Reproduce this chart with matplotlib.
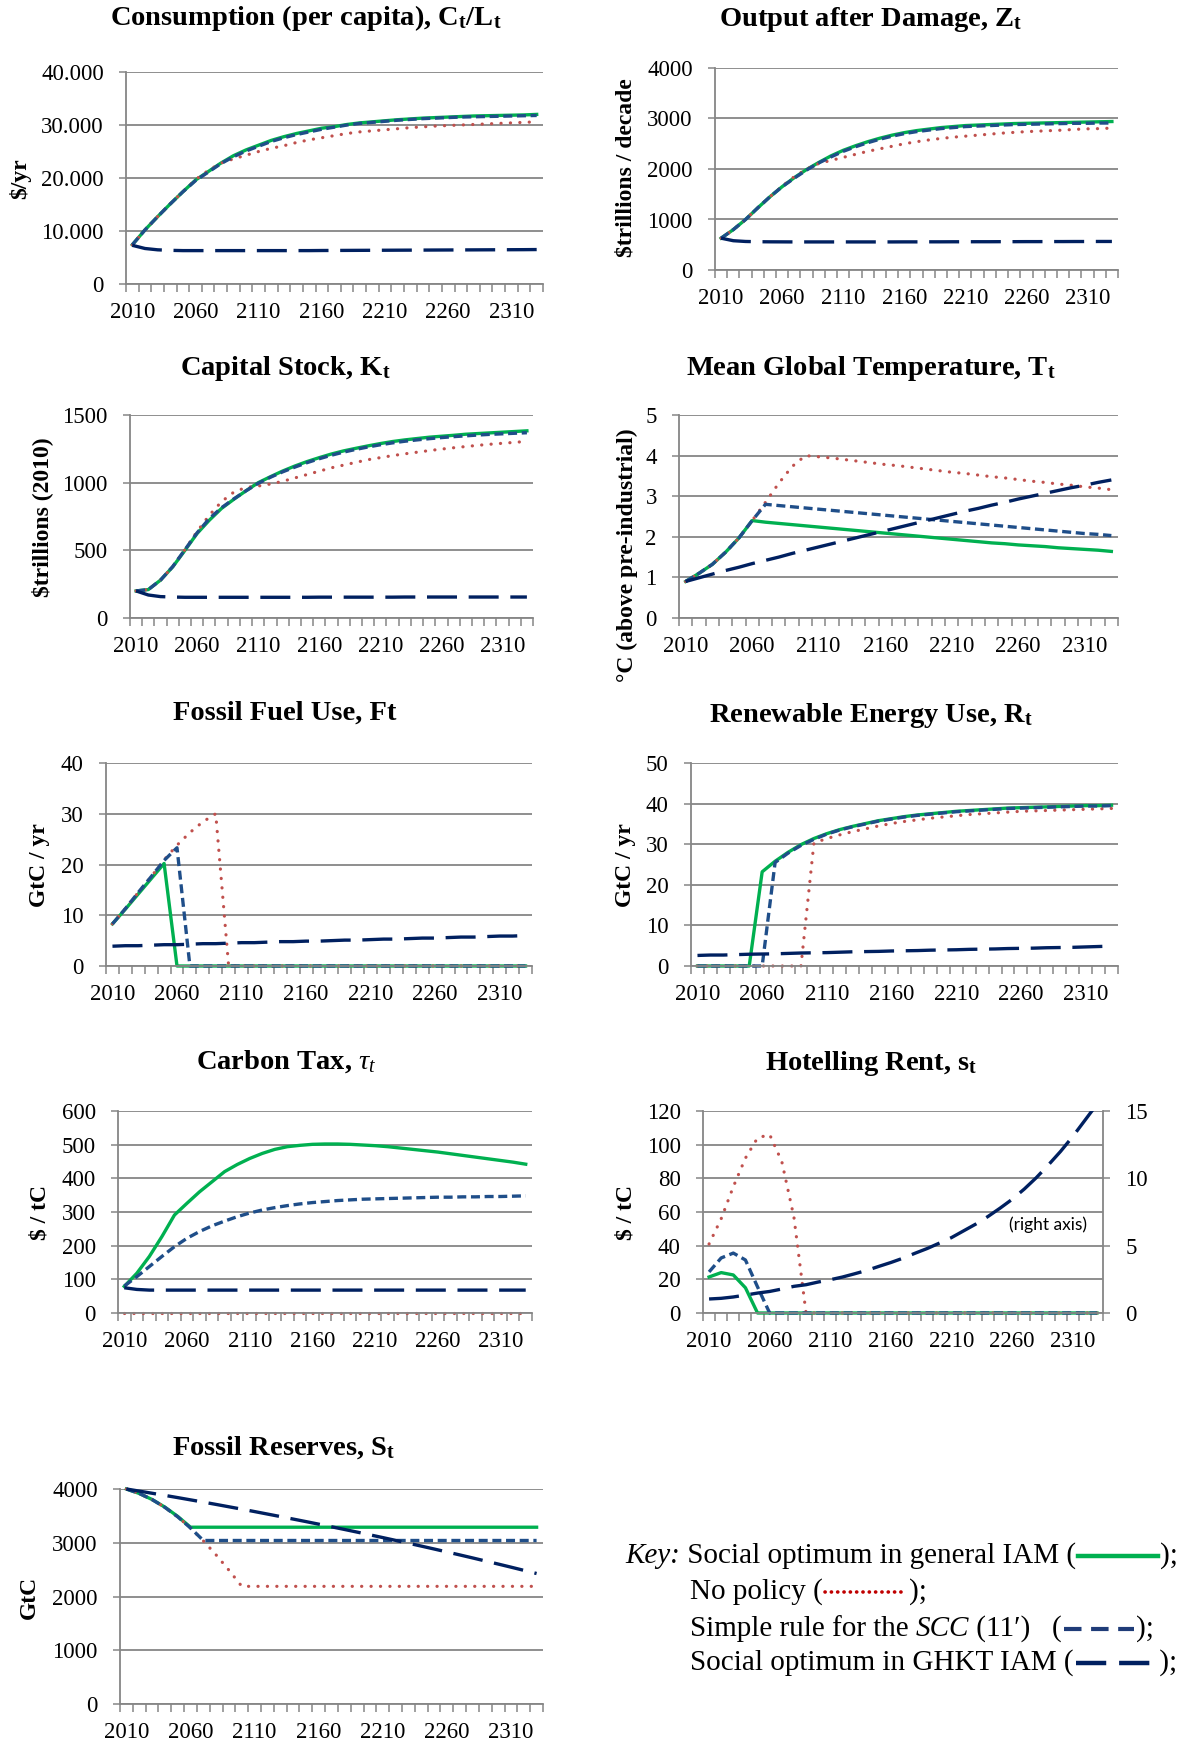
import numpy as np
import matplotlib
matplotlib.use("Agg")
import matplotlib.pyplot as plt
from matplotlib.lines import Line2D
from matplotlib.ticker import FuncFormatter

plt.rcParams["font.family"] = ["Liberation Serif", "DejaVu Serif"]
plt.rcParams["mathtext.fontset"] = "custom"
plt.rcParams["mathtext.rm"] = "Liberation Serif"
plt.rcParams["mathtext.it"] = "Liberation Serif:italic"
plt.rcParams["mathtext.bf"] = "Liberation Serif:bold"

# ---- data (decades 2010 .. 2330) ----
years = list(range(2010, 2331, 10))
year_labels = [2010, 2060, 2110, 2160, 2210, 2260, 2310]

cons_opt = [7400, 10200, 12700, 15100, 17400, 19600, 21200, 22800, 24200, 25300,
            26200, 27100, 27800, 28400, 28900, 29400, 29700, 30100, 30400, 30600,
            30800, 31000, 31150, 31300, 31400, 31500, 31600, 31700, 31750, 31800,
            31850, 31900, 32000]
cons_nopol = [7400, 10200, 12700, 15100, 17400, 19700, 21400, 22800, 23600, 24300,
              25000, 25600, 26100, 26700, 27200, 27600, 28000, 28400, 28700, 28900,
              29100, 29300, 29500, 29650, 29800, 29900, 30000, 30100, 30200, 30300,
              30400, 30500, 30600]
cons_rule = [7400, 10200, 12700, 15100, 17400, 19500, 21100, 22700, 24000, 25100,
             26000, 26900, 27600, 28200, 28700, 29200, 29600, 30000, 30300, 30500,
             30700, 30900, 31050, 31200, 31300, 31400, 31500, 31550, 31600, 31650,
             31700, 31750, 31800]
cons_ghkt = [7300, 6700, 6450, 6350, 6300, 6300, 6300, 6300, 6300, 6300,
             6300, 6300, 6300, 6300, 6300, 6320, 6330, 6340, 6350, 6360,
             6370, 6380, 6390, 6400, 6410, 6420, 6430, 6440, 6450, 6460,
             6470, 6480, 6500]

out_opt = [630, 800, 1000, 1230, 1450, 1650, 1830, 1990, 2130, 2260,
           2370, 2460, 2540, 2610, 2670, 2720, 2760, 2790, 2820, 2840,
           2860, 2870, 2880, 2890, 2900, 2905, 2910, 2915, 2920, 2925,
           2930, 2935, 2940]
out_nopol = [630, 800, 1000, 1230, 1450, 1660, 1850, 2000, 2110, 2170,
             2230, 2290, 2350, 2400, 2450, 2500, 2540, 2575, 2605, 2630,
             2650, 2670, 2690, 2710, 2725, 2740, 2750, 2760, 2770, 2785,
             2795, 2800, 2810]
out_rule = [630, 800, 1000, 1230, 1450, 1650, 1820, 1980, 2120, 2240,
            2350, 2440, 2520, 2590, 2650, 2700, 2740, 2770, 2800, 2820,
            2840, 2850, 2860, 2870, 2880, 2885, 2890, 2895, 2900, 2905,
            2905, 2910, 2910]
out_ghkt = [630, 580, 565, 560, 558, 557, 556, 556, 556, 556,
            556, 556, 556, 556, 556, 557, 557, 558, 558, 559,
            559, 560, 560, 561, 561, 562, 562, 563, 563, 564,
            564, 565, 565]

cap_opt = [200, 210, 280, 378, 500, 625, 723, 810, 877, 940,
           1000, 1044, 1086, 1123, 1156, 1185, 1212, 1235, 1254, 1272,
           1289, 1304, 1316, 1326, 1336, 1343, 1350, 1358, 1363, 1368,
           1373, 1378, 1383]
cap_nopol = [200, 210, 280, 380, 505, 640, 760, 860, 930, 965,
             975, 990, 1010, 1035, 1060, 1085, 1110, 1130, 1150, 1170,
             1185, 1200, 1213, 1225, 1237, 1248, 1258, 1267, 1276, 1284,
             1291, 1298, 1305]
cap_rule = [200, 210, 280, 380, 505, 630, 735, 815, 880, 940,
            995, 1040, 1080, 1115, 1148, 1177, 1203, 1226, 1246, 1264,
            1280, 1294, 1306, 1316, 1325, 1333, 1340, 1346, 1352, 1357,
            1361, 1365, 1369]
cap_ghkt = [200, 170, 158, 155, 153, 153, 153, 153, 153, 153,
            153, 153, 153, 153, 153, 154, 154, 154, 154, 154,
            154, 154, 155, 155, 155, 155, 155, 155, 155, 155,
            155, 155, 155]

temp_opt = [0.90, 1.10, 1.32, 1.62, 1.97, 2.40, 2.36, 2.33, 2.30, 2.27,
            2.24, 2.21, 2.18, 2.15, 2.12, 2.09, 2.06, 2.03, 2.00, 1.97,
            1.94, 1.91, 1.88, 1.85, 1.83, 1.80, 1.78, 1.76, 1.73, 1.71,
            1.69, 1.67, 1.64]
temp_nopol = [0.90, 1.10, 1.32, 1.62, 1.97, 2.40, 2.85, 3.32, 3.73, 4.00,
              3.97, 3.94, 3.90, 3.86, 3.82, 3.78, 3.75, 3.71, 3.67, 3.63,
              3.59, 3.56, 3.52, 3.48, 3.45, 3.41, 3.37, 3.34, 3.30, 3.27,
              3.23, 3.20, 3.16]
temp_rule = [0.90, 1.10, 1.32, 1.62, 1.97, 2.40, 2.80, 2.77, 2.74, 2.71,
             2.68, 2.65, 2.62, 2.59, 2.56, 2.53, 2.50, 2.47, 2.44, 2.41,
             2.38, 2.35, 2.32, 2.29, 2.26, 2.23, 2.20, 2.17, 2.14, 2.11,
             2.08, 2.06, 2.03]
temp_ghkt = [0.90, 0.99, 1.08, 1.17, 1.25, 1.34, 1.42, 1.50, 1.59, 1.67,
             1.75, 1.83, 1.91, 1.99, 2.07, 2.15, 2.23, 2.31, 2.39, 2.47,
             2.55, 2.63, 2.70, 2.78, 2.85, 2.93, 3.00, 3.07, 3.14, 3.21,
             3.27, 3.34, 3.40]

fossil_opt = [8.3, 11.2, 14.2, 17.2, 20.2, 0, 0, 0, 0, 0,
              0, 0, 0, 0, 0, 0, 0, 0, 0, 0,
              0, 0, 0, 0, 0, 0, 0, 0, 0, 0,
              0, 0, 0]
fossil_nopol = [8.3, 11.3, 14.5, 17.6, 20.9, 23.8, 26.3, 28.4, 30.0, 0,
                0, 0, 0, 0, 0, 0, 0, 0, 0, 0,
                0, 0, 0, 0, 0, 0, 0, 0, 0, 0,
                0, 0, 0]
fossil_rule = [8.3, 11.3, 14.5, 17.6, 20.8, 23.3, 0, 0, 0, 0,
               0, 0, 0, 0, 0, 0, 0, 0, 0, 0,
               0, 0, 0, 0, 0, 0, 0, 0, 0, 0,
               0, 0, 0]
fossil_ghkt = [3.9, 4.0, 4.0, 4.1, 4.2, 4.2, 4.3, 4.4, 4.4, 4.5,
               4.6, 4.6, 4.7, 4.8, 4.8, 4.9, 4.9, 5.0, 5.1, 5.1,
               5.2, 5.3, 5.3, 5.4, 5.5, 5.5, 5.6, 5.7, 5.7, 5.8,
               5.9, 5.9, 6.0]

renew_opt = [0, 0, 0, 0, 0, 23.2, 25.8, 28.0, 29.9, 31.4,
             32.6, 33.6, 34.4, 35.1, 35.8, 36.3, 36.8, 37.2, 37.5, 37.8,
             38.1, 38.3, 38.5, 38.7, 38.9, 39.0, 39.1, 39.2, 39.3, 39.4,
             39.5, 39.5, 39.6]
renew_nopol = [0, 0, 0, 0, 0, 0, 0, 0, 0, 30.3,
               31.4, 32.3, 33.1, 33.8, 34.5, 35.1, 35.6, 36.0, 36.4, 36.7,
               37.0, 37.3, 37.5, 37.7, 37.9, 38.1, 38.2, 38.3, 38.4, 38.5,
               38.6, 38.7, 38.8]
renew_rule = [0, 0, 0, 0, 0, 0, 25.5, 27.8, 29.7, 31.2,
              32.5, 33.5, 34.3, 35.0, 35.7, 36.2, 36.7, 37.1, 37.4, 37.7,
              38.0, 38.2, 38.4, 38.6, 38.8, 38.9, 39.0, 39.1, 39.2, 39.3,
              39.4, 39.4, 39.5]
renew_ghkt = [2.6, 2.7, 2.7, 2.8, 2.9, 2.95, 3.0, 3.1, 3.2, 3.25,
              3.3, 3.4, 3.5, 3.55, 3.6, 3.7, 3.75, 3.8, 3.9, 3.95,
              4.0, 4.1, 4.15, 4.2, 4.3, 4.35, 4.4, 4.5, 4.55, 4.6,
              4.7, 4.8, 4.9]

tax_opt = [79, 118, 168, 227, 291, 326, 360, 390, 420, 441,
           459, 474, 486, 494, 498, 501, 502, 502, 501, 499,
           497, 494, 490, 486, 482, 478, 473, 468, 463, 458,
           453, 448, 442]
tax_nopol = [0, 0, 0, 0, 0, 0, 0, 0, 0, 0,
             0, 0, 0, 0, 0, 0, 0, 0, 0, 0,
             0, 0, 0, 0, 0, 0, 0, 0, 0, 0,
             0, 0, 0]
tax_rule = [80, 108, 138, 168, 197, 222, 242, 259, 273, 286,
            297, 306, 313, 319, 324, 328, 331, 334, 336, 338,
            339, 340, 341, 342, 343, 344, 344, 345, 345, 346,
            346, 347, 348]
tax_ghkt = [75, 70, 68, 68, 68, 68, 68, 68, 68, 68,
            68, 68, 68, 68, 68, 68, 68, 68, 68, 68,
            68, 68, 68, 68, 68, 68, 68, 68, 68, 68,
            68, 68, 68]

rent_opt = [21.4, 24, 22.6, 15, 0, 0, 0, 0, 0, 0,
            0, 0, 0, 0, 0, 0, 0, 0, 0, 0,
            0, 0, 0, 0, 0, 0, 0, 0, 0, 0,
            0, 0, 0]
rent_nopol = [41, 56, 75, 92, 104, 106, 90, 57, 0, 0,
              0, 0, 0, 0, 0, 0, 0, 0, 0, 0,
              0, 0, 0, 0, 0, 0, 0, 0, 0, 0,
              0, 0, 0]
rent_rule = [24.4, 32.7, 35.6, 31.5, 15.5, 0, 0, 0, 0, 0,
             0, 0, 0, 0, 0, 0, 0, 0, 0, 0,
             0, 0, 0, 0, 0, 0, 0, 0, 0, 0,
             0, 0, 0]
rent_ghkt_right = [1.04, 1.09, 1.19, 1.33, 1.48, 1.60, 1.78, 1.98, 2.10, 2.30,
                   2.47, 2.67, 2.91, 3.16, 3.46, 3.75, 4.07, 4.44, 4.79, 5.19,
                   5.60, 6.10, 6.60, 7.16, 7.78, 8.44, 9.20, 10.05, 11.0, 12.0,
                   13.1, 14.3, 15.5]

res_opt = [4000, 3917, 3805, 3663, 3491, 3289, 3289, 3289, 3289, 3289,
           3289, 3289, 3289, 3289, 3289, 3289, 3289, 3289, 3289, 3289,
           3289, 3289, 3289, 3289, 3289, 3289, 3289, 3289, 3289, 3289,
           3289, 3289, 3289]
res_nopol = [4000, 3917, 3804, 3659, 3483, 3274, 3036, 2773, 2489, 2189,
             2189, 2189, 2189, 2189, 2189, 2189, 2189, 2189, 2189, 2189,
             2189, 2189, 2189, 2189, 2189, 2189, 2189, 2189, 2189, 2189,
             2189, 2189, 2189]
res_rule = [4000, 3917, 3804, 3659, 3483, 3275, 3042, 3042, 3042, 3042,
            3042, 3042, 3042, 3042, 3042, 3042, 3042, 3042, 3042, 3042,
            3042, 3042, 3042, 3042, 3042, 3042, 3042, 3042, 3042, 3042,
            3042, 3042, 3042]
res_ghkt = [4000, 3961, 3921, 3881, 3840, 3798, 3756, 3713, 3669, 3625,
            3580, 3534, 3488, 3441, 3394, 3346, 3297, 3248, 3198, 3147,
            3096, 3044, 2991, 2938, 2884, 2829, 2774, 2718, 2661, 2604,
            2546, 2487, 2428]

# ---- styles ----
W, H = 1192, 1744
GRID = "#868686"
TITLE_FS = 20.5
TICK_FS = 16.5
YLAB_FS = 17
KEY_FS = 21

STYLE = {
    "opt": dict(color="#00B050", lw=2.4, ls="-"),
    "nopol": dict(color="#C0504D", lw=2.3, ls=(0, (0.05, 2.9)), dash_capstyle="round"),
    "rule": dict(color="#1F4E89", lw=2.4, ls=(0, (2.7, 1.4))),
    "ghkt": dict(color="#002060", lw=2.4, ls=(0, (9, 3.5))),
}
KEY_STYLE = {
    "opt": dict(color="#00B050", lw=3.2, ls="-"),
    "nopol": dict(color="#C00000", lw=2.6, ls=(0, (0.05, 1.7)), dash_capstyle="round"),
    "rule": dict(color="#1F3C78", lw=3.0, ls=(0, (4.2, 2.3))),
    "ghkt": dict(color="#002060", lw=3.2, ls=(0, (6.8, 2.9))),
}

fig = plt.figure(figsize=(W / 100, H / 100), dpi=100)


def px(x, y):
    return x / W, 1 - y / H


def make_axes(box, yticks, fmt=None):
    l, t, r, b = box
    ax = fig.add_axes([l / W, 1 - b / H, (r - l) / W, (b - t) / H])
    ax.set_xlim(2005, 2335)
    ax.set_ylim(yticks[0], yticks[-1])
    ax.set_yticks(yticks)
    if fmt is not None:
        ax.yaxis.set_major_formatter(FuncFormatter(fmt))
    ax.set_xticks(year_labels)
    ax.set_xticks(np.arange(2005, 2336, 10), minor=True)
    ax.tick_params(axis="x", which="major", length=0, pad=13, labelsize=TICK_FS)
    ax.tick_params(axis="x", which="minor", length=6, width=1.1, color=GRID,
                   direction="out")
    ax.tick_params(axis="y", which="major", length=5, width=1.1, color=GRID,
                   direction="out", pad=11, labelsize=TICK_FS)
    ax.yaxis.grid(True, color=GRID, lw=1.3)
    ax.set_axisbelow(True)
    for s in ("top", "right"):
        ax.spines[s].set_visible(False)
    for s in ("left", "bottom"):
        ax.spines[s].set_color(GRID)
        ax.spines[s].set_linewidth(1.3)
    return ax


def draw(ax, series, clip=False):
    for key, vals in zip(("opt", "nopol", "rule", "ghkt"), series):
        if vals is None:
            continue
        ax.plot(years, vals, clip_on=clip, **STYLE[key])


def title(x, y, s):
    fig.text(*px(x, y), s, ha="center", va="center", fontsize=TITLE_FS,
             fontweight="bold")


def ylabel(x, y, s):
    fig.text(*px(x, y), s, ha="center", va="center", rotation=90,
             fontsize=YLAB_FS, fontweight="bold")


dot_fmt = lambda v, p: f"{int(v):,}".replace(",", ".")

panels = [
    dict(box=(126, 72, 543, 284), yticks=[0, 10000, 20000, 30000, 40000], fmt=dot_fmt,
         series=(cons_opt, cons_nopol, cons_rule, cons_ghkt),
         title=(306, 18, r"Consumption (per capita), C$_\mathbf{t}$/L$_\mathbf{t}$"),
         ylab=(20, 179, "$/yr")),
    dict(box=(715, 68, 1118, 270), yticks=[0, 1000, 2000, 3000, 4000], fmt=None,
         series=(out_opt, out_nopol, out_rule, out_ghkt),
         title=(871, 19, r"Output after Damage, Z$_\mathbf{t}$"),
         ylab=(626, 168, "$trillions / decade")),
    dict(box=(130, 415, 533, 618), yticks=[0, 500, 1000, 1500], fmt=None,
         series=(cap_opt, cap_nopol, cap_rule, cap_ghkt),
         title=(285, 368, r"Capital Stock, K$_\mathbf{t}$"),
         ylab=(42, 517, "$trillions (2010)")),
    dict(box=(679, 415, 1118, 618), yticks=[0, 1, 2, 3, 4, 5], fmt=None,
         series=(temp_opt, temp_nopol, temp_rule, temp_ghkt),
         title=(871, 368, r"Mean Global Temperature, T$_\mathbf{t}$"),
         ylab=(627, 555, "°C (above pre-industrial)")),
    dict(box=(106, 763, 532, 966), yticks=[0, 10, 20, 30, 40], fmt=None,
         series=(fossil_opt, fossil_nopol, fossil_rule, fossil_ghkt),
         title=(285, 713, "Fossil Fuel Use, Ft"),
         ylab=(40, 865, "GtC / yr")),
    dict(box=(691, 763, 1118, 966), yticks=[0, 10, 20, 30, 40, 50], fmt=None,
         series=(renew_opt, renew_nopol, renew_rule, renew_ghkt),
         title=(871, 715, r"Renewable Energy Use, R$_\mathbf{t}$"),
         ylab=(626, 865, "GtC / yr")),
    dict(box=(118, 1111, 532, 1313), yticks=[0, 100, 200, 300, 400, 500, 600], fmt=None,
         series=(tax_opt, tax_nopol, tax_rule, tax_ghkt),
         title=(286, 1062, r"Carbon Tax, $\tau_t$"),
         ylab=(40, 1212, "$ / tC")),
    dict(box=(703, 1111, 1103, 1313), yticks=[0, 20, 40, 60, 80, 100, 120], fmt=None,
         series=(rent_opt, rent_nopol, rent_rule, None),
         title=(871, 1063, r"Hotelling Rent, s$_\mathbf{t}$"),
         ylab=(626, 1212, "$ / tC")),
    dict(box=(120, 1489, 543, 1704), yticks=[0, 1000, 2000, 3000, 4000], fmt=None,
         series=(res_opt, res_nopol, res_rule, res_ghkt),
         title=(284, 1448, r"Fossil Reserves, S$_\mathbf{t}$"),
         ylab=(29, 1597, "GtC")),
]

axes = []
for p in panels:
    ax = make_axes(p["box"], p["yticks"], p["fmt"])
    draw(ax, p["series"])
    title(*p["title"])
    ylabel(*p["ylab"])
    axes.append(ax)

# Hotelling rent: GHKT series on the right axis
ax_h = axes[7]
ax_r = ax_h.twinx()
ax_r.set_ylim(0, 15)
ax_r.set_yticks([0, 5, 10, 15])
ax_r.tick_params(axis="y", length=5, width=1.1, color=GRID, direction="out",
                 pad=11, labelsize=TICK_FS)
for s in ("top", "left", "bottom"):
    ax_r.spines[s].set_visible(False)
ax_r.spines["right"].set_color(GRID)
ax_r.spines["right"].set_linewidth(1.3)
ax_r.plot(years, rent_ghkt_right, clip_on=True, **STYLE["ghkt"])
fig.text(*px(1048, 1225), "(right axis)", ha="center", va="center",
         fontsize=12.5, family=["Lato", "DejaVu Sans"])

# ---- key ----
renderer = fig.canvas.get_renderer()


def key_row(x, y, parts):
    for kind, val, extra in parts:
        if kind == "text":
            t = fig.text(*px(x, y), val, ha="left", va="baseline",
                         fontsize=KEY_FS, **extra)
            x = t.get_window_extent(renderer).x1
        else:
            yl = y - 7
            fig.add_artist(Line2D([(x + 2) / W, (x + 2 + extra) / W],
                                  [1 - yl / H, 1 - yl / H], **KEY_STYLE[val]))
            x = x + extra + 4


key_row(625, 1563, [("text", "Key:", dict(style="italic")),
                    ("text", " Social optimum in general IAM (", {}),
                    ("line", "opt", 80),
                    ("text", ");", {})])
key_row(690, 1599, [("text", "No policy (", {}),
                    ("line", "nopol", 82),
                    ("text", ");", {})])
key_row(690, 1636, [("text", "Simple rule for the ", {}),
                    ("text", "SCC", dict(style="italic")),
                    ("text", " (11\u2032)   (", {}),
                    ("line", "rule", 70),
                    ("text", ");", {})])
key_row(690, 1670, [("text", "Social optimum in GHKT IAM (", {}),
                    ("line", "ghkt", 74),
                    ("text", " );", {})])

fig.savefig("out.png", dpi=100)
